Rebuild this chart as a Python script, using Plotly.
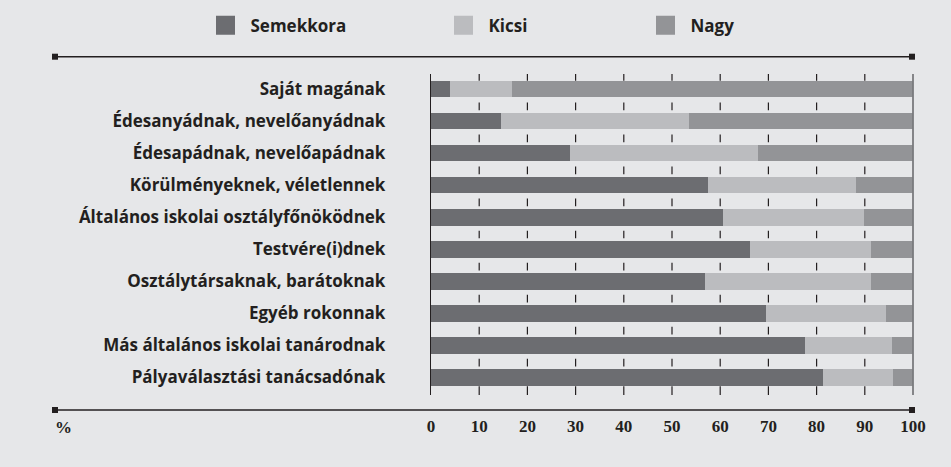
import plotly.graph_objects as go

categories = [
    "Saját magának",
    "Édesanyádnak, nevelőanyádnak",
    "Édesapádnak, nevelőapádnak",
    "Körülményeknek, véletlennek",
    "Általános iskolai osztályfőnöködnek",
    "Testvére(i)dnek",
    "Osztálytársaknak, barátoknak",
    "Egyéb rokonnak",
    "Más általános iskolai tanárodnak",
    "Pályaválasztási tanácsadónak",
]
semekkora = [3.9, 14.6, 28.8, 57.4, 60.5, 66.1, 56.8, 69.4, 77.5, 81.4]
kicsi = [13.0, 39.0, 39.0, 30.7, 29.4, 25.1, 34.4, 24.9, 18.1, 14.5]
nagy = [83.1, 46.4, 32.2, 11.9, 10.1, 8.8, 8.8, 5.7, 4.4, 4.1]
series_names = ["Semekkora", "Kicsi", "Nagy"]
tick_vals = [0, 10, 20, 30, 40, 50, 60, 70, 80, 90, 100]

BG = "#e6e7e9"
DARK = "#231f20"
colors = ["#6c6d71", "#bbbcbf", "#939497"]
LABEL_FONT = "Open Sans"
NUM_FONT = "Liberation Serif"

W, H = 951, 467
PL, PR, PT, PB = 431, 38, 74, 72
pw = W - PL - PR
ph = H - PT - PB


def px_x(px):
    return (px - PL) / pw


def px_y(py):
    return (H - PB - py) / ph


fig = go.Figure()
legend_ids = ["legend", "legend2", "legend3"]
for name, vals, col in zip(series_names, [semekkora, kicsi, nagy], colors):
    fig.add_trace(go.Bar(
        y=categories, x=vals, name=name, orientation="h",
        marker=dict(color=col, line=dict(width=0)),
        width=0.52, showlegend=False, hoverinfo="x+name",
    ))
# legend entries (large square keys)
for name, col, lg in zip(series_names, colors, legend_ids):
    fig.add_trace(go.Scatter(
        x=[None], y=[None], mode="markers", name=name, legend=lg,
        marker=dict(symbol="square", size=16, color=col, line=dict(color=col, width=3)),
        hoverinfo="skip",
    ))

shapes = []
n = len(categories)
tick_rows = [(-0.47, -0.26)] + [(i + 0.42, i + 0.66) for i in range(n - 1)] + [(n - 1 + 0.28, n - 1 + 0.55)]
for tv in tick_vals[1:-1]:
    for (a, b) in tick_rows:
        shapes.append(dict(type="line", xref="x", yref="y", x0=tv, x1=tv, y0=a, y1=b,
                           line=dict(color=DARK, width=1.2)))
shapes.append(dict(type="line", xref="paper", yref="paper", x0=1, x1=1, y0=0, y1=1,
                   line=dict(color="#7a7b7e", width=1.8)))
for ly in [56.7, 410]:
    shapes.append(dict(type="line", xref="paper", yref="paper", x0=px_x(55), x1=px_x(912),
                       y0=px_y(ly), y1=px_y(ly), line=dict(color=DARK, width=1.6)))
    for cx in [55, 912]:
        shapes.append(dict(type="rect", xref="paper", yref="paper",
                           x0=px_x(cx - 3), x1=px_x(cx + 3), y0=px_y(ly - 3), y1=px_y(ly + 3),
                           fillcolor=DARK, line=dict(width=0)))

legend_common = dict(orientation="h", xref="container", yref="container",
                     yanchor="middle", y=1 - 25.7 / H, xanchor="left",
                     bgcolor="rgba(0,0,0,0)", itemwidth=40,
                     font=dict(family=LABEL_FONT, size=17, color=DARK, weight="bold"))
legend_x = [200.5, 438.5, 640.5]

fig.update_layout(
    width=W, height=H,
    barmode="stack",
    paper_bgcolor=BG, plot_bgcolor=BG,
    margin=dict(l=PL, r=PR, t=PT, b=PB),
    showlegend=True,
    legend=dict(legend_common, x=legend_x[0] / W),
    legend2=dict(legend_common, x=legend_x[1] / W),
    legend3=dict(legend_common, x=legend_x[2] / W),
    xaxis=dict(range=[0, 100], tickvals=tick_vals, showgrid=False, zeroline=False,
               showline=False, ticks="", ticklabelstandoff=19,
               tickfont=dict(family=NUM_FONT, size=17, color=DARK, weight="bold")),
    yaxis=dict(range=[n - 1 + 0.55, -0.47], showgrid=False, zeroline=False,
               showline=True, linecolor=DARK, linewidth=1.4, ticks="",
               ticklabelstandoff=41,
               tickfont=dict(family=LABEL_FONT, size=17, color=DARK, weight="bold")),
    shapes=shapes,
    annotations=[dict(text="%", xref="paper", yref="paper", x=px_x(53), y=px_y(427),
                      xanchor="left", yanchor="middle", showarrow=False,
                      font=dict(family=NUM_FONT, size=17, color=DARK, weight="bold"))],
)

fig.write_html("out.html", config={"displayModeBar": False},
               post_script="document.body.style.margin='0';")
